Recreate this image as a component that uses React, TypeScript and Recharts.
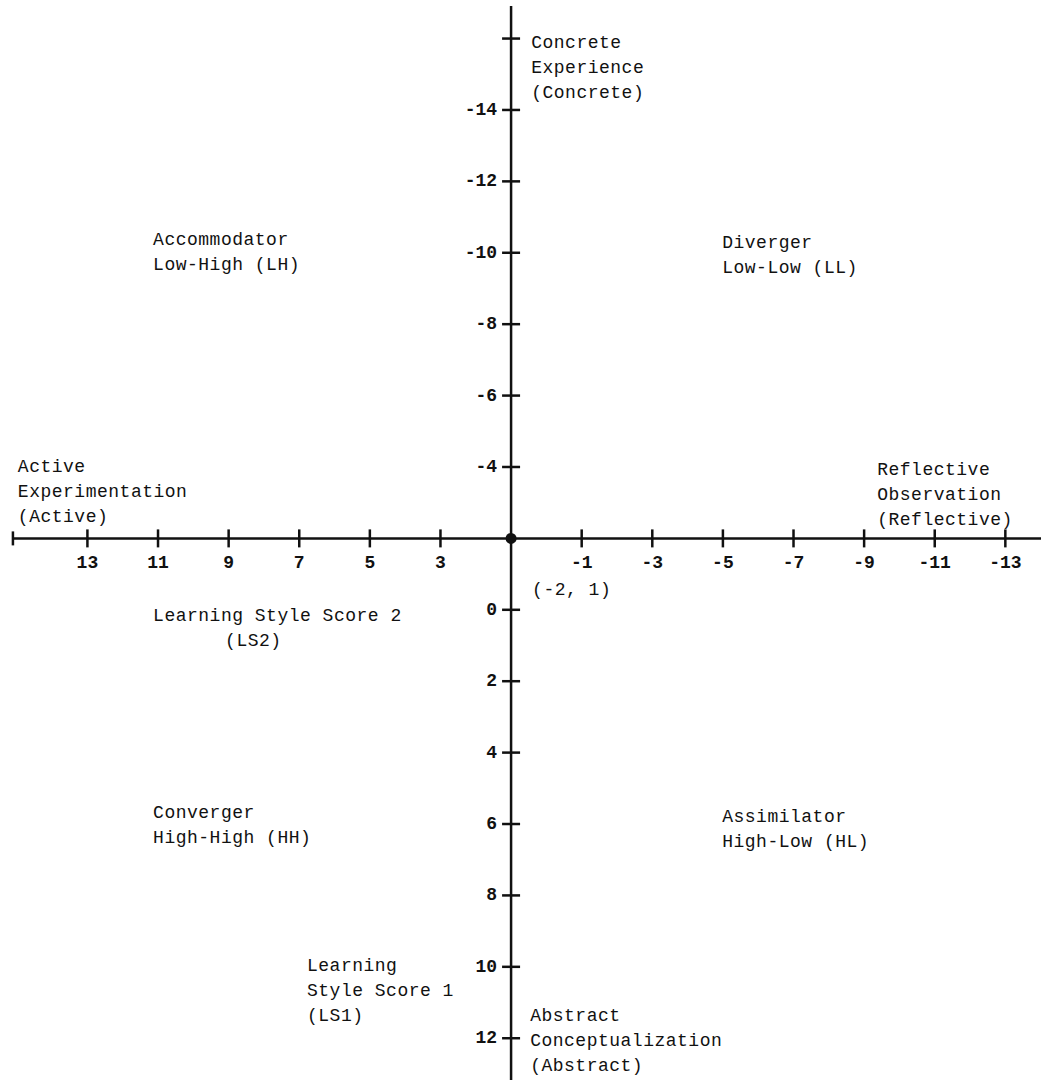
import React from 'react';
import { ScatterChart, Scatter, XAxis, YAxis, ReferenceLine } from 'recharts';

// Horizontal axis (LS2) tick values, reversed: high values on the left
const xTickValues = [13, 11, 9, 7, 5, 3, -1, -3, -5, -7, -9, -11, -13];
const xTickLabels = ['13', '11', '9', '7', '5', '3', '-1', '-3', '-5', '-7', '-9', '-11', '-13'];

// Vertical axis (LS1) tick values, negative at top
const yTickValues = [-16, -14, -12, -10, -8, -6, -4, 0, 2, 4, 6, 8, 10, 12];
const yTickLabels = ['', '-14', '-12', '-10', '-8', '-6', '-4', '0', '2', '4', '6', '8', '10', '12'];

// Crossing point of the two axes
const originX = 1;
const originY = -2;

// Visible extent of the axes
const xAxisLeftEnd = 15.11;
const xDomain: [number, number] = [-14.01, 15.476];
const yAxisTopEnd = -16.91;
const yDomain: [number, number] = [-17.08, 13.17];

// Text annotations (x, y = left edge / first-line centre in data units)
const annoX = [0.43, 11.14, -4.98, 14.97, -9.37, 0.405, 11.14, 9.1, 11.14, -4.98, 6.78, 0.46];
const annoY = [-15.88, -10.36, -10.27, -4.0, -3.91, -0.55, 0.17, 0.87, 5.69, 5.8, 9.98, 11.38];
const annoLines = [
  ['Concrete', 'Experience', '(Concrete)'],
  ['Accommodator', 'Low-High (LH)'],
  ['Diverger', 'Low-Low (LL)'],
  ['Active', 'Experimentation', '(Active)'],
  ['Reflective', 'Observation', '(Reflective)'],
  ['(-2, 1)'],
  ['Learning Style Score 2'],
  ['(LS2)'],
  ['Converger', 'High-High (HH)'],
  ['Assimilator', 'High-Low (HL)'],
  ['Learning', 'Style Score 1', '(LS1)'],
  ['Abstract', 'Conceptualization', '(Abstract)'],
];

const INK = '#111';
const FONT = '"Liberation Mono", "DejaVu Sans Mono", monospace';

const xTickData = xTickValues.map((v, i) => ({ x: v, y: originY, label: xTickLabels[i] }));
const yTickData = yTickValues.map((v, i) => ({ x: originX, y: v, label: yTickLabels[i] }));
const originData = [{ x: originX, y: originY }];
const endTickData = [{ x: xAxisLeftEnd, y: originY }];
const annoData = annoLines.map((lines, i) => ({ x: annoX[i], y: annoY[i], lines }));

const XTick = (props: any) => {
  const { cx, cy, payload } = props;
  return (
    <g>
      <line x1={cx} x2={cx} y1={cy - 9} y2={cy + 9} stroke={INK} strokeWidth={2.5} />
      <text x={cx} y={cy + 25} textAnchor="middle" dominantBaseline="central" fontFamily={FONT} fontSize={18} fontWeight="bold" fill={INK}>
        {payload.label}
      </text>
    </g>
  );
};

const YTick = (props: any) => {
  const { cx, cy, payload } = props;
  return (
    <g>
      <line x1={cx - 9} x2={cx + 9} y1={cy} y2={cy} stroke={INK} strokeWidth={2.5} />
      {payload.label ? (
        <text x={cx - 14} y={cy} textAnchor="end" dominantBaseline="central" fontFamily={FONT} fontSize={18} fontWeight="bold" fill={INK}>
          {payload.label}
        </text>
      ) : null}
    </g>
  );
};

const EndTick = (props: any) => {
  const { cx, cy } = props;
  return <line x1={cx} x2={cx} y1={cy - 7} y2={cy + 7} stroke={INK} strokeWidth={2.5} />;
};

const OriginDot = (props: any) => {
  const { cx, cy } = props;
  return <circle cx={cx} cy={cy} r={5.5} fill={INK} />;
};

const Annotation = (props: any) => {
  const { cx, cy, payload } = props;
  return (
    <text x={cx} y={cy} dominantBaseline="central" fontFamily={FONT} fontSize={18} letterSpacing={0.5} fill={INK}>
      {payload.lines.map((l: string, i: number) => (
        <tspan key={i} x={cx} dy={i === 0 ? 0 : 25}>
          {l}
        </tspan>
      ))}
    </text>
  );
};

export default function App() {
  return (
    <div style={{ position: 'absolute', left: 0, top: 0, width: 1041, height: 1080, background: '#fff' }}>
      <ScatterChart width={1041} height={1080} margin={{ top: 0, right: 0, bottom: 0, left: 0 }}>
        <XAxis type="number" dataKey="x" domain={xDomain} allowDataOverflow reversed hide />
        <YAxis type="number" dataKey="y" domain={yDomain} allowDataOverflow reversed hide />
        <ReferenceLine
          segment={[{ x: xAxisLeftEnd, y: originY }, { x: xDomain[0], y: originY }]}
          stroke={INK}
          strokeWidth={2.5}
          ifOverflow="visible"
        />
        <ReferenceLine
          segment={[{ x: originX, y: yAxisTopEnd }, { x: originX, y: yDomain[1] }]}
          stroke={INK}
          strokeWidth={2.5}
          ifOverflow="visible"
        />
        <Scatter data={xTickData} shape={XTick} isAnimationActive={false} />
        <Scatter data={yTickData} shape={YTick} isAnimationActive={false} />
        <Scatter data={endTickData} shape={EndTick} isAnimationActive={false} />
        <Scatter data={originData} shape={OriginDot} isAnimationActive={false} />
        <Scatter data={annoData} shape={Annotation} isAnimationActive={false} />
      </ScatterChart>
    </div>
  );
}
